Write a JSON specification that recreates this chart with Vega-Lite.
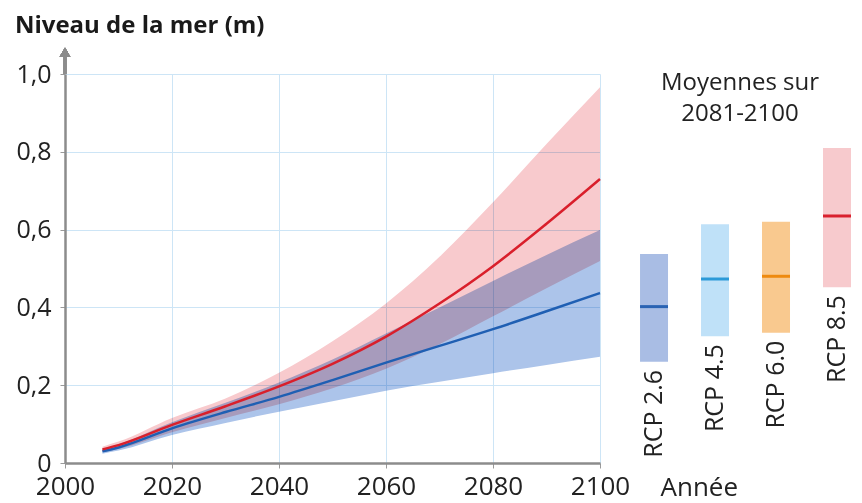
{
  "$schema": "https://vega.github.io/schema/vega-lite/v6.json",
  "background": "white",
  "padding": {"left": 14, "top": 13, "right": 0, "bottom": 0},
  "title": {"text": "Niveau de la mer (m)", "anchor": "start", "frame": "bounds", "font": "Open Sans", "fontSize": 24, "fontWeight": "bold", "color": "#1a1a1a", "offset": 10, "dx": -1},
  "bounds": "flush",
  "spacing": 20,
  "resolve": {"scale": {"fill": "independent", "color": "independent", "stroke": "independent"}},
  "config": {"view": {"stroke": null}, "font": "Open Sans"},
  "datasets": {
    "proj": [
      {"scenario": "RCP 2.6", "year": 2007, "mean": 0.030, "lo": 0.024, "hi": 0.036},
      {"scenario": "RCP 2.6", "year": 2010, "mean": 0.040, "lo": 0.032, "hi": 0.048},
      {"scenario": "RCP 2.6", "year": 2020, "mean": 0.089, "lo": 0.072, "hi": 0.105},
      {"scenario": "RCP 2.6", "year": 2030, "mean": 0.131, "lo": 0.103, "hi": 0.155},
      {"scenario": "RCP 2.6", "year": 2040, "mean": 0.170, "lo": 0.132, "hi": 0.207},
      {"scenario": "RCP 2.6", "year": 2050, "mean": 0.213, "lo": 0.159, "hi": 0.266},
      {"scenario": "RCP 2.6", "year": 2060, "mean": 0.258, "lo": 0.186, "hi": 0.333},
      {"scenario": "RCP 2.6", "year": 2070, "mean": 0.301, "lo": 0.209, "hi": 0.400},
      {"scenario": "RCP 2.6", "year": 2080, "mean": 0.344, "lo": 0.231, "hi": 0.468},
      {"scenario": "RCP 2.6", "year": 2090, "mean": 0.390, "lo": 0.252, "hi": 0.535},
      {"scenario": "RCP 2.6", "year": 2100, "mean": 0.437, "lo": 0.273, "hi": 0.599},
      {"scenario": "RCP 8.5", "year": 2007, "mean": 0.035, "lo": 0.028, "hi": 0.042},
      {"scenario": "RCP 8.5", "year": 2010, "mean": 0.046, "lo": 0.036, "hi": 0.055},
      {"scenario": "RCP 8.5", "year": 2020, "mean": 0.098, "lo": 0.079, "hi": 0.116},
      {"scenario": "RCP 8.5", "year": 2030, "mean": 0.146, "lo": 0.116, "hi": 0.166},
      {"scenario": "RCP 8.5", "year": 2040, "mean": 0.197, "lo": 0.151, "hi": 0.232},
      {"scenario": "RCP 8.5", "year": 2050, "mean": 0.255, "lo": 0.192, "hi": 0.313},
      {"scenario": "RCP 8.5", "year": 2060, "mean": 0.325, "lo": 0.242, "hi": 0.410},
      {"scenario": "RCP 8.5", "year": 2070, "mean": 0.410, "lo": 0.305, "hi": 0.530},
      {"scenario": "RCP 8.5", "year": 2080, "mean": 0.506, "lo": 0.377, "hi": 0.670},
      {"scenario": "RCP 8.5", "year": 2090, "mean": 0.615, "lo": 0.449, "hi": 0.820},
      {"scenario": "RCP 8.5", "year": 2100, "mean": 0.730, "lo": 0.519, "hi": 0.966}
    ],
    "avg": [
      {"rcp": "RCP 2.6", "mean": 0.402, "lo": 0.260, "hi": 0.537},
      {"rcp": "RCP 4.5", "mean": 0.473, "lo": 0.326, "hi": 0.614},
      {"rcp": "RCP 6.0", "mean": 0.480, "lo": 0.335, "hi": 0.620},
      {"rcp": "RCP 8.5", "mean": 0.635, "lo": 0.452, "hi": 0.810}
    ]
  },
  "hconcat": [
    {
      "width": 535,
      "height": 389,
      "data": {"name": "proj"},
      "layer": [
        {
          "mark": {"type": "area", "blend": "multiply", "interpolate": "monotone"},
          "encoding": {
            "x": {"field": "year", "type": "quantitative", "scale": {"domain": [2000, 2100]},
              "axis": {"values": [2000, 2020, 2040, 2060, 2080, 2100], "format": "d", "title": "Année",
                "titleX": 595, "titleY": 32, "titleAlign": "left", "titleBaseline": "alphabetic", "titleAnchor": "start",
                "titleFontSize": 26, "titleFontWeight": "normal", "titleColor": "#222", "titleFont": "Open Sans",
                "labelFontSize": 26, "labelColor": "#222", "labelFont": "Open Sans", "labelPadding": 5, "labelFlush": false, "labelOverlap": false,
                "tickSize": 5, "tickColor": "#9a9a9a", "domainColor": "#8c8c8c", "domainWidth": 2.5,
                "gridColor": "#cde5f6", "gridWidth": 1}},
            "y": {"field": "lo", "type": "quantitative", "scale": {"domain": [0, 1]},
              "axis": {"values": [0, 0.2, 0.4, 0.6, 0.8, 1.0], "title": null,
                "labelExpr": "datum.value == 0 ? '0' : replace(format(datum.value, '.1f'), '.', ',')",
                "labelFontSize": 25, "labelColor": "#222", "labelFont": "Open Sans", "labelPadding": 9,
                "tickSize": 5, "tickColor": "#9a9a9a", "domainColor": "#8c8c8c", "domainWidth": 2.5,
                "gridColor": "#cde5f6", "gridWidth": 1}},
            "y2": {"field": "hi"},
            "fill": {"field": "scenario", "type": "nominal", "scale": {"domain": ["RCP 2.6", "RCP 8.5"], "range": ["#acc4ea", "#f8cacd"]}, "legend": null}
          }
        },
        {
          "mark": {"type": "line", "strokeWidth": 2.5, "interpolate": "monotone"},
          "encoding": {
            "x": {"field": "year", "type": "quantitative"},
            "y": {"field": "mean", "type": "quantitative"},
            "stroke": {"field": "scenario", "type": "nominal", "scale": {"domain": ["RCP 2.6", "RCP 8.5"], "range": ["#1f5fb3", "#d91f2b"]}, "legend": null}
          }
        },
        {
          "mark": {"type": "rule", "color": "#8c8c8c", "strokeWidth": 2.5, "clip": false},
          "encoding": {
            "x": {"datum": 2000, "type": "quantitative"},
            "y": {"datum": 1.0, "type": "quantitative"},
            "y2": {"datum": 1.05}
          }
        },
        {
          "mark": {"type": "point", "shape": "triangle-up", "filled": true, "color": "#8c8c8c", "opacity": 1, "size": 110, "clip": false},
          "encoding": {
            "x": {"datum": 2000, "type": "quantitative"},
            "y": {"datum": 1.056, "type": "quantitative"}
          }
        }
      ]
    },
    {
      "width": 240,
      "height": 389,
      "data": {"name": "avg"},
      "title": {"text": ["Moyennes sur", "2081-2100"], "anchor": "middle", "font": "Open Sans", "fontSize": 24, "fontWeight": "normal", "color": "#222", "offset": -52, "lineHeight": 31},
      "encoding": {
        "x": {"field": "rcp", "type": "nominal", "sort": null, "scale": {"paddingInner": 0.541, "paddingOuter": 0.238, "align": 0.69}, "axis": null}
      },
      "layer": [
        {
          "mark": {"type": "bar"},
          "encoding": {
            "y": {"field": "lo", "type": "quantitative", "scale": {"domain": [0, 1]}, "axis": null},
            "y2": {"field": "hi"},
            "fill": {"field": "rcp", "type": "nominal", "scale": {"domain": ["RCP 2.6", "RCP 4.5", "RCP 6.0", "RCP 8.5"], "range": ["#a9bde4", "#bfe1f8", "#f9c98f", "#f7cacd"]}, "legend": null}
          }
        },
        {
          "mark": {"type": "tick", "size": 28, "thickness": 3, "opacity": 1},
          "encoding": {
            "y": {"field": "mean", "type": "quantitative"},
            "color": {"field": "rcp", "type": "nominal", "scale": {"domain": ["RCP 2.6", "RCP 4.5", "RCP 6.0", "RCP 8.5"], "range": ["#2a63b3", "#2c9ad8", "#ee8a10", "#d9212e"]}, "legend": null}
          }
        },
        {
          "mark": {"type": "text", "angle": 270, "align": "right", "baseline": "middle", "dx": -8, "font": "Open Sans", "fontSize": 25, "color": "#222"},
          "encoding": {
            "y": {"field": "lo", "type": "quantitative"},
            "text": {"field": "rcp"}
          }
        }
      ]
    }
  ]
}
